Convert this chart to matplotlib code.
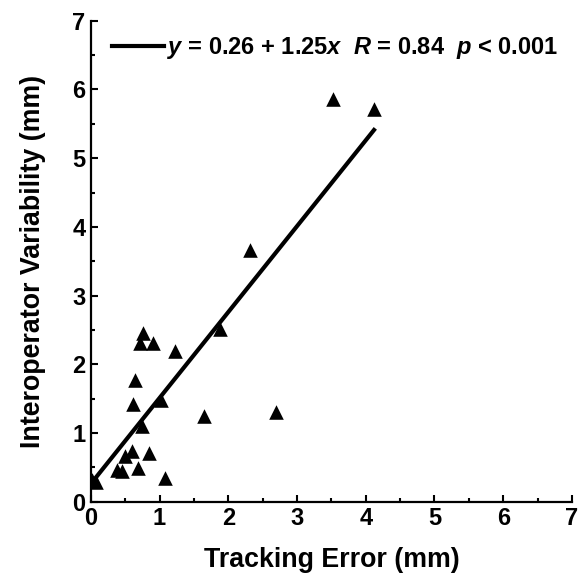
import matplotlib.pyplot as plt
import numpy as np
from matplotlib.ticker import MultipleLocator

plt.rcParams['font.family'] = ['Liberation Sans', 'DejaVu Sans']
plt.rcParams['font.weight'] = 'bold'
plt.rcParams['axes.labelweight'] = 'bold'
plt.rcParams['mathtext.fontset'] = 'custom'
plt.rcParams['mathtext.rm'] = 'Liberation Sans:bold'
plt.rcParams['mathtext.it'] = 'Liberation Sans:bold:italic'

# tracking error vs interoperator variability (mm)
tracking_error = [0.02, 0.08, 0.38, 0.45, 0.50, 0.60, 0.69, 0.74, 0.85, 1.08,
                  0.61, 0.64, 1.02, 0.71, 0.76, 0.91, 1.23, 1.65, 1.88, 2.31,
                  2.70, 3.52, 4.12]
interop_var = [0.32, 0.28, 0.46, 0.44, 0.67, 0.74, 0.49, 1.10, 0.71, 0.35,
               1.42, 1.77, 1.48, 2.31, 2.45, 2.31, 2.20, 1.24, 2.52, 3.67,
               1.31, 5.86, 5.71]

intercept = 0.26
slope = 1.25
fit_label = '$y$ = 0.26 + 1.25$x$  $R$ = 0.84  $p$ < 0.001'

fig = plt.figure(figsize=(5.86, 5.76), dpi=100)
ax = fig.add_axes([0.155, 0.129, 0.821, 0.835])

xs = np.array([min(tracking_error), max(tracking_error)])
ax.plot(xs, intercept + slope * xs, color='black', lw=3, label=fit_label)
ax.scatter(tracking_error, interop_var, marker='^', s=110, color='black',
           linewidths=0, zorder=3)

ax.set_xlim(0, 7)
ax.set_ylim(0, 7)
ax.xaxis.set_major_locator(MultipleLocator(1))
ax.yaxis.set_major_locator(MultipleLocator(1))
ax.xaxis.set_minor_locator(MultipleLocator(0.5))
ax.yaxis.set_minor_locator(MultipleLocator(0.5))
ax.tick_params(which='major', direction='in', length=5, width=1.5,
               labelsize=17, pad=4)
ax.tick_params(which='minor', direction='in', length=3, width=1.5)
for s in ['top', 'right']:
    ax.spines[s].set_visible(False)
for s in ['left', 'bottom']:
    ax.spines[s].set_linewidth(1.6)

ax.set_xlabel('Tracking Error (mm)', fontsize=19.3, labelpad=12)
ax.set_ylabel('Interoperator Variability (mm)', fontsize=19.3, labelpad=19)

ax.legend(loc='upper left', frameon=False, fontsize=17, handlelength=2.2,
          handletextpad=0.1, borderaxespad=0.2, bbox_to_anchor=(0.015, 1.0))

fig.savefig('out.png', dpi=100)
